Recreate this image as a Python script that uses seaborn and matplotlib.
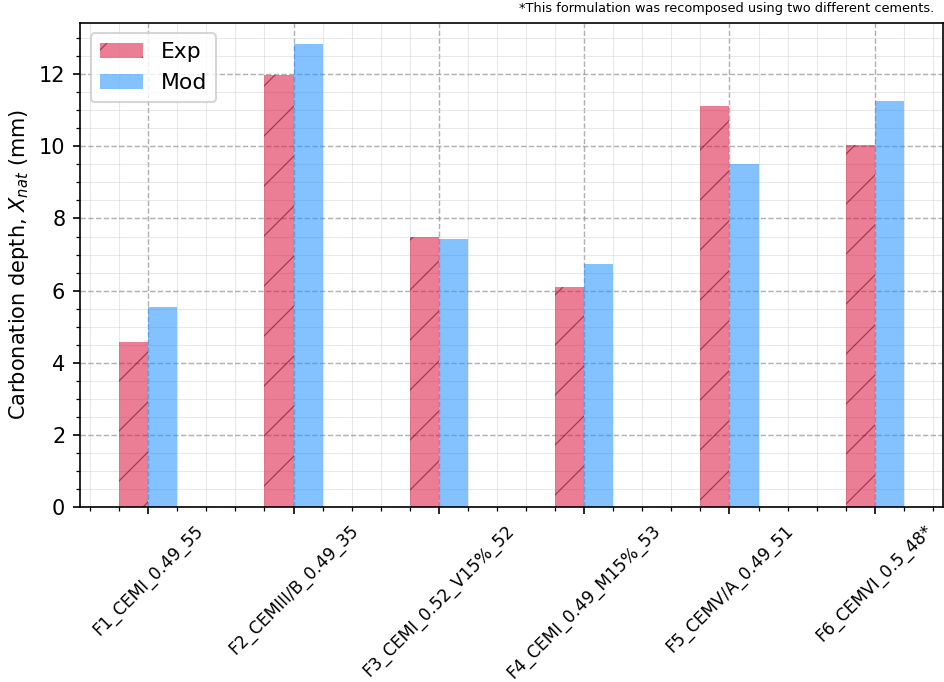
import pandas as pd
import numpy as np
import seaborn as sns
import matplotlib.pyplot as plt
from matplotlib.ticker import MultipleLocator

# Data
formulations = ['F1_CEMI_0.49_55', 'F2_CEMIII/B_0.49_35', 'F3_CEMI_0.52_V15%_52',
                'F4_CEMI_0.49_M15%_53', 'F5_CEMV/A_0.49_51', 'F6_CEMVI_0.5_48*']
exp_depth = [4.57, 11.97, 7.49, 6.11, 11.11, 10.05]
mod_depth = [5.54, 12.83, 7.42, 6.74, 9.50, 11.26]

df = pd.DataFrame({
    'Formulation': formulations * 2,
    'Depth': exp_depth + mod_depth,
    'Source': ['Exp'] * len(exp_depth) + ['Mod'] * len(mod_depth),
})

plt.rcParams['hatch.linewidth'] = 0.6

fig, ax = plt.subplots(figsize=(944 / 150, 682 / 150), dpi=150)
fig.subplots_adjust(left=0.0847, right=0.999, bottom=0.257, top=0.967)

sns.barplot(data=df, x='Formulation', y='Depth', hue='Source',
            palette={'Exp': 'crimson', 'Mod': 'dodgerblue'}, saturation=1,
            width=0.4, alpha=0.55, linewidth=0, errorbar=None, ax=ax)

# hatch on the experimental bars
for bar in ax.containers[0]:
    bar.set_hatch('/')
    bar.set_edgecolor('#5a0a1e')
    bar.set_linewidth(0)

ax.legend(ax.containers, ['Exp', 'Mod'], loc='upper left', fontsize=10.5)

ax.set_xlim(-0.47, 5.47)
ax.set_ylim(0, 13.44)
ax.set_xlabel('')
ax.set_ylabel('Carbonation depth, $X_{nat}$ (mm)', fontsize=10)

ax.xaxis.set_minor_locator(MultipleLocator(0.2))
ax.yaxis.set_minor_locator(MultipleLocator(0.5))
ax.grid(True, which='major', linestyle='--', color='gray', alpha=0.6, linewidth=0.7)
ax.grid(True, which='minor', linestyle='-', color='lightgray', alpha=0.5, linewidth=0.5)
ax.set_axisbelow(True)

ax.tick_params(axis='y', labelsize=10)
plt.setp(ax.get_xticklabels(), rotation=45, ha='center', fontsize=8.2)
for s in ax.spines.values():
    s.set_visible(True)
    s.set_color('black')

fig.text(0.99, 0.978, '*This formulation was recomposed using two different cements.',
         ha='right', va='bottom', fontsize=6.2)

fig.savefig('out.png', dpi=150)
